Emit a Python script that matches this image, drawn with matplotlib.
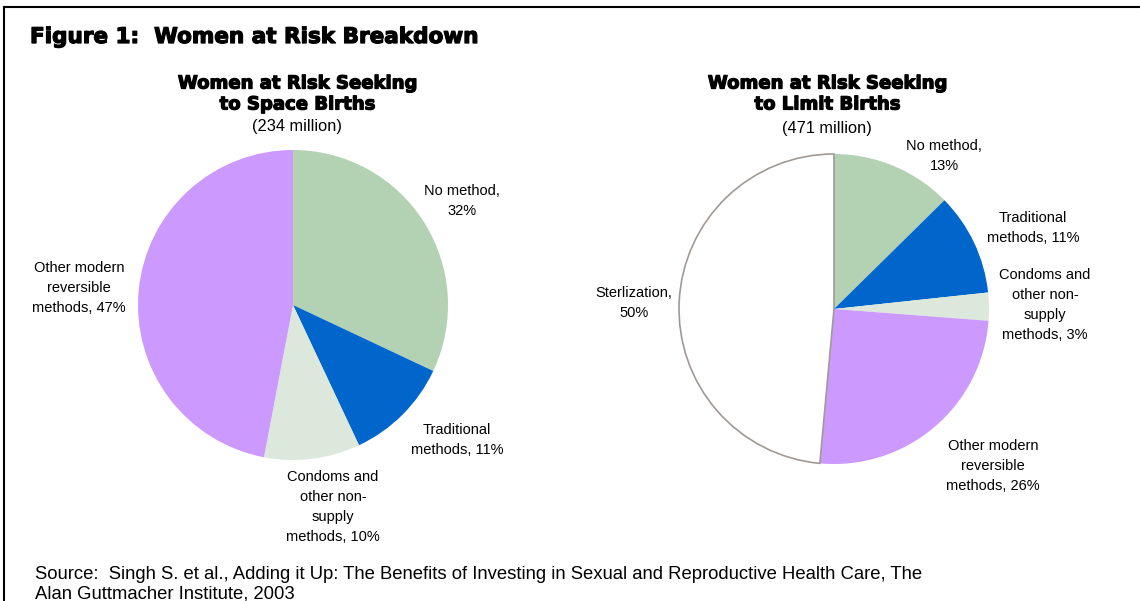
import matplotlib
matplotlib.use('Agg')
import matplotlib.pyplot as plt
import matplotlib.patheffects as pe
from matplotlib.lines import Line2D

# === Data ===
space_labels = ['No method', 'Traditional methods', 'Condoms and other non-supply methods',
                'Other modern reversible methods']
space_values = [32, 11, 10, 47]
space_colors = ['#B3D1B3', '#0066CC', '#DCE8DC', '#CC99FF']

limit_labels = ['No method', 'Traditional methods', 'Condoms and other non-supply methods',
                'Other modern reversible methods', 'Sterlization']
limit_values = [13, 11, 3, 26, 50]
limit_colors = ['#B3D1B3', '#0066CC', '#DCE8DC', '#CC99FF', '#FFFFFF']

W, H = 1140, 601
plt.rcParams['font.family'] = ['Liberation Sans', 'DejaVu Sans']

fig = plt.figure(figsize=(W / 100, H / 100), dpi=100)
fig.patch.set_facecolor('white')

heavy = [pe.withStroke(linewidth=0.9, foreground='black')]


def px(x, y):
    return x / W, 1 - y / H


def pie_axes(cx, cy, r):
    ax = fig.add_axes([(cx - r) / W, 1 - (cy + r) / H, 2 * r / W, 2 * r / H])
    ax.axis('off')
    return ax


# === Frame (top and left only) ===
fig.add_artist(Line2D([4 / W, 1], [1 - 7 / H, 1 - 7 / H], color='black', lw=1.5, transform=fig.transFigure))
fig.add_artist(Line2D([4 / W, 4 / W], [1 - 7 / H, 0], color='black', lw=1.5, transform=fig.transFigure))

# === Title ===
fig.text(*px(30, 37), 'Figure 1:  Women at Risk Breakdown', fontsize=15.5, fontweight='bold',
         family='DejaVu Sans', ha='left', va='center', path_effects=heavy)

# === Left pie ===
ax1 = pie_axes(293, 305, 155)
ax1.pie(space_values, colors=space_colors, startangle=90, counterclock=False, radius=1,
        wedgeprops=dict(linewidth=0))
ax1.set_xlim(-1, 1)
ax1.set_ylim(-1, 1)

fig.text(*px(297, 94), 'Women at Risk Seeking\nto Space Births', fontsize=13, fontweight='bold',
         family='DejaVu Sans', ha='center', va='center', linespacing=1.21, path_effects=heavy)
fig.text(*px(297, 127), '(234 million)', fontsize=11.8, ha='center', va='center')

lbl = dict(fontsize=10.5, ha='center', va='center', linespacing=1.52)
fig.text(*px(462, 201), 'No method,\n32%', **lbl)
fig.text(*px(457, 440), 'Traditional\nmethods, 11%', **lbl)
fig.text(*px(333, 507), 'Condoms and\nother non-\nsupply\nmethods, 10%', **lbl)
fig.text(*px(79, 288), 'Other modern\nreversible\nmethods, 47%', **lbl)

# === Right pie ===
ax2 = pie_axes(834, 309, 155)
wedges, _ = ax2.pie(limit_values, colors=limit_colors, startangle=90, counterclock=False, radius=1,
                    wedgeprops=dict(linewidth=0))
ax2.set_xlim(-1, 1)
ax2.set_ylim(-1, 1)
wedges[-1].set_edgecolor('#A09A96')
wedges[-1].set_linewidth(1.2)

fig.text(*px(827, 94), 'Women at Risk Seeking\nto Limit Births', fontsize=13, fontweight='bold',
         family='DejaVu Sans', ha='center', va='center', linespacing=1.21, path_effects=heavy)
fig.text(*px(827, 128), '(471 million)', fontsize=11.8, ha='center', va='center')

fig.text(*px(944, 156), 'No method,\n13%', **lbl)
fig.text(*px(1033, 228), 'Traditional\nmethods, 11%', **lbl)
fig.text(*px(1045, 305), 'Condoms and\nother non-\nsupply\nmethods, 3%', **lbl)
fig.text(*px(634, 303), 'Sterlization,\n50%', **lbl)
fig.text(*px(993, 466), 'Other modern\nreversible\nmethods, 26%', **lbl)

# === Source ===
fig.text(*px(35, 584), 'Source:  Singh S. et al., Adding it Up: The Benefits of Investing in Sexual and '
         'Reproductive Health Care, The\nAlan Guttmacher Institute, 2003',
         fontsize=13.3, ha='left', va='center', linespacing=1.22)

fig.savefig('out.png', dpi=100)
